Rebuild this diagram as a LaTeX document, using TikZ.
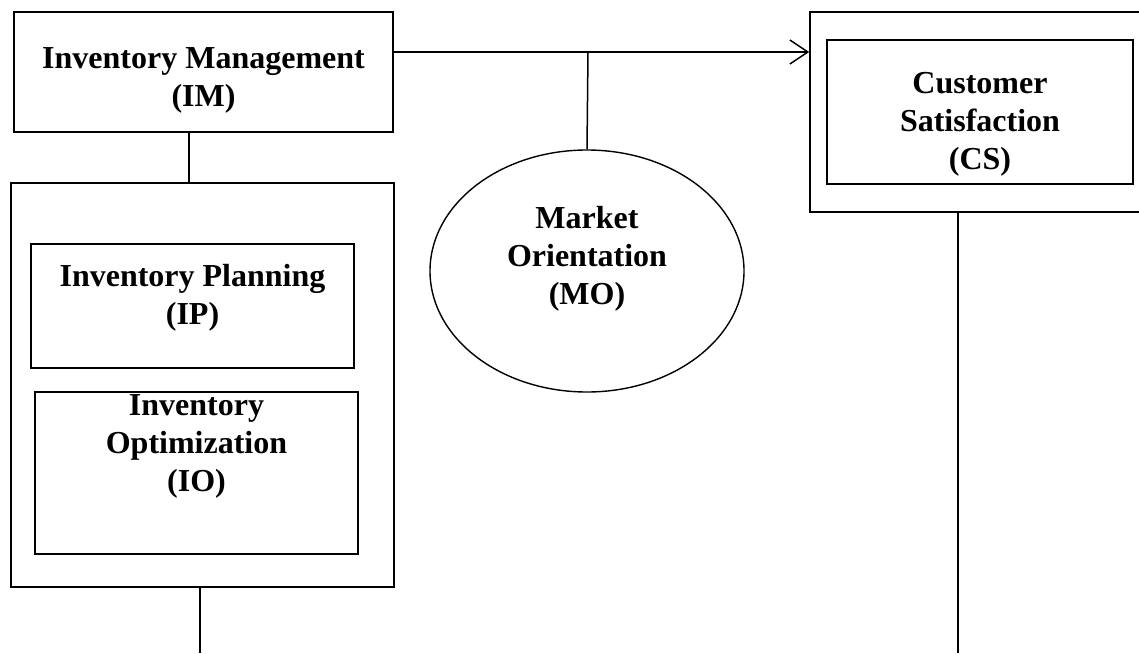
\documentclass[tikz,border=0pt]{standalone}
\usepackage{fontspec}
\setmainfont{Liberation Serif}
\usetikzlibrary{arrows.meta, shapes, positioning}

\tikzset{
    txt/.style={font=\bfseries\fontsize{32}{38}\selectfont, align=center},
    frame/.style={draw, rectangle, line width=1.6pt, inner sep=0pt},
    oval/.style={draw, ellipse, line width=1.4pt, inner sep=0pt},
    link/.style={line width=1.5pt}
}

\begin{document}
\begin{tikzpicture}[x=1pt, y=-1pt, >={Straight Barb[length=18pt, width=24pt]}]
            \clip (0,0) rectangle (1139,653);

            \node[frame, minimum width=379pt, minimum height=120pt,
                  label={[txt, yshift=-8.5pt]center:{Inventory Management\\(IM)}}] (IM) at (203.5, 72) {};
            \node[frame, minimum width=383pt, minimum height=404pt] (grp) at (202.5, 385) {};
            \node[frame, minimum width=323pt, minimum height=124pt,
                  label={[txt, yshift=8pt]center:{Inventory Planning\\(IP)}}] (IP) at (192.5, 306) {};
            \node[frame, minimum width=323pt, minimum height=162pt,
                  label={[txt, anchor=north]north:{Inventory\\Optimization\\(IO)}}] (IO) at (196.5, 473) {};
            \node[oval, minimum width=314pt, minimum height=242pt,
                  label={[txt, yshift=12.5pt]center:{Market\\Orientation\\(MO)}}] (MO) at (587, 271) {};
            \node[frame, minimum width=334pt, minimum height=200pt] (CSout) at (977, 112) {};
            \node[frame, minimum width=306pt, minimum height=144pt,
                  label={[txt, yshift=-12.5pt]center:{Customer\\Satisfaction\\(CS)}}] (CS) at (980, 112) {};

            \coordinate (top) at (588, 52);
            \coordinate (imdrop) at (189, 0);
            \coordinate (leftend) at (200, 653);
            \coordinate (rightend) at (958, 653);

            \draw[link, ->] (IM.east |- top) -- (CSout.west |- top);
            \draw[link] (MO.north) -- (top);
            \draw[link] (IM.south -| imdrop) -- (grp.north -| imdrop);
            \draw[link] (grp.south -| leftend) -- (leftend);
            \draw[link] (CSout.south -| rightend) -- (rightend);
        \end{tikzpicture}
\end{document}
